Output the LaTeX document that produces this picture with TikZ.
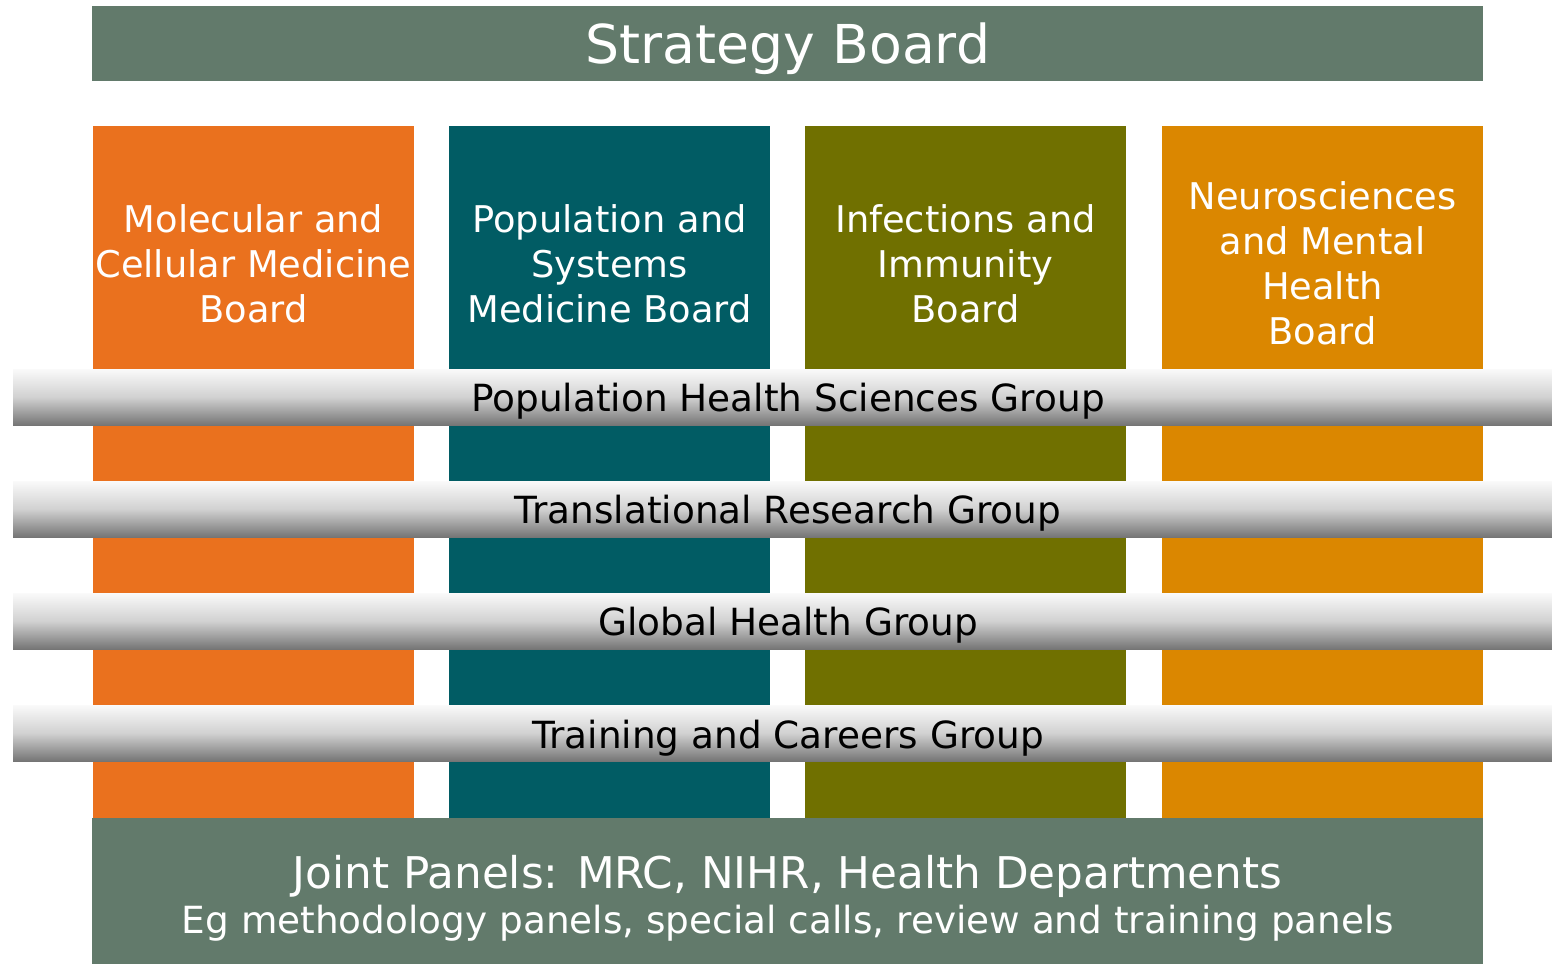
\documentclass[tikz,border=0pt]{standalone}
\usepackage{fontspec}
\setmainfont{DejaVu Sans}
\definecolor{boardgreen}{RGB}{98,122,107}
\definecolor{colorange}{RGB}{234,113,30}
\definecolor{colteal}{RGB}{1,92,100}
\definecolor{cololive}{RGB}{112,112,0}
\definecolor{colamber}{RGB}{219,135,0}
\begin{document}
\begin{tikzpicture}[x=0.5pt,y=-0.5pt,
  coltext/.style={text=white,align=center,font=\fontsize{18.4pt}{22.5pt}\selectfont,inner sep=0pt},
  bandtext/.style={text=black,font=\fontsize{18.7pt}{22pt}\selectfont,inner sep=0pt},
  band/.style={top color=white!98!black,bottom color=black!54,middle color=black!18},
]
\useasboundingbox (0,0) rectangle (1552,964);
% top board
\fill[boardgreen] (92,6) rectangle (1483,81);
\node[text=white,font=\fontsize{26.8pt}{30pt}\selectfont,inner sep=0pt] (strategy) at (788,48.5) {Strategy Board};
% columns
\fill[colorange] (93,126) rectangle (414,818);
\fill[colteal] (449,126) rectangle (770,818);
\fill[cololive] (805,126) rectangle (1126,818);
\fill[colamber] (1162,126) rectangle (1483,818);
\node[coltext] (mcmb) at (253.5,263.5) {Molecular and\\Cellular Medicine\\Board};
\node[coltext] (psmb) at (609.5,263.5) {Population and\\Systems\\Medicine Board};
\node[coltext] (iib) at (965.5,263.5) {Infections and\\Immunity\\Board};
\node[coltext] (nmhb) at (1322.5,263.5) {Neurosciences\\and Mental\\Health\\Board};
% bands
\shade[band] (13,369) rectangle (1552,425);
\shade[band] (13,481) rectangle (1552,537);
\shade[band] (13,593) rectangle (1552,649);
\shade[band] (13,705) rectangle (1552,761);
\node[bandtext] (phsg) at (788,401) {Population Health Sciences Group};
\node[bandtext] (trg) at (788,513) {Translational Research Group};
\node[bandtext] (ghg) at (788,625) {Global Health Group};
\node[bandtext] (tcg) at (788,738) {Training and Careers Group};
% bottom board
\fill[boardgreen] (92,818) rectangle (1483,964);
\node[text=white,font=\fontsize{21.85pt}{24pt}\selectfont,inner sep=0pt] (joint) at (787.5,876.5) {Joint Panels: MRC, NIHR, Health Departments};
\node[text=white,font=\fontsize{18.7pt}{22pt}\selectfont,inner sep=0pt] (eg) at (788,923.5) {Eg methodology panels, special calls, review and training panels};
\end{tikzpicture}
\end{document}
